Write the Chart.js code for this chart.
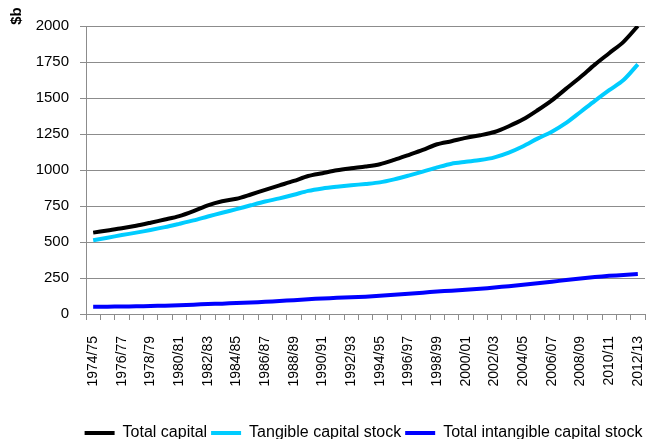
<!DOCTYPE html>
<html>
<head>
<meta charset="utf-8">
<script src="https://cdn.jsdelivr.net/npm/chart.js@4"></script>
<style>
  html, body { margin: 0; padding: 0; background: #fff; }
  #wrap { width: 648px; height: 439px; }
</style>
</head>
<body>
<div id="wrap"><canvas id="chart"></canvas></div>
<script>
const years = [
    '1974/75', '1975/76', '1976/77', '1977/78', '1978/79', '1979/80', '1980/81', '1981/82',
    '1982/83', '1983/84', '1984/85', '1985/86', '1986/87', '1987/88', '1988/89', '1989/90',
    '1990/91', '1991/92', '1992/93', '1993/94', '1994/95', '1995/96', '1996/97', '1997/98',
    '1998/99', '1999/00', '2000/01', '2001/02', '2002/03', '2003/04', '2004/05', '2005/06',
    '2006/07', '2007/08', '2008/09', '2009/10', '2010/11', '2011/12', '2012/13',
];

const totalCapital = [
    565, 580, 595, 613, 634, 656, 680, 715, 755, 783, 800, 830, 862,
    893, 924, 958, 978, 998, 1012, 1024, 1040, 1070, 1104, 1139, 1179, 1200,
    1223, 1241, 1264, 1304, 1352, 1415, 1484, 1565, 1646, 1732, 1811, 1890, 2000,
];

const tangibleStock = [
    512, 530, 548, 565, 583, 603, 626, 650, 677, 703, 728, 755, 781,
    803, 828, 855, 872, 884, 894, 903, 914, 935, 961, 989, 1018, 1044,
    1057, 1069, 1088, 1121, 1165, 1218, 1266, 1327, 1403, 1480, 1554, 1625, 1734,
];

const intangibleStock = [
    51, 51, 52, 53, 55, 58, 61, 65, 69, 72, 76, 80, 85,
    90, 96, 102, 108, 112, 116, 120, 126, 133, 140, 148, 156, 162,
    168, 175, 184, 193, 203, 213, 224, 236, 247, 257, 265, 271, 277,
];

const FONT = "'Liberation Sans', Arial, sans-serif";
const GRID = '#8c8c8c';

function line(label, data, color) {
    return {
        label: label,
        data: data,
        borderColor: color,
        backgroundColor: color,
        borderWidth: 4,
        pointRadius: 0,
        tension: 0.3,
        fill: false,
    };
}

// Excel puts the legend a bit right and low, and the unit label above the axis
const excelLayout = {
    id: 'excelLayout',
    afterLayout(chart) {
        const lg = chart.legend;
        lg.left += 38;
        lg.right += 38;
        lg.top += 12;
        lg.bottom += 12;
    },
    afterDraw(chart) {
        const c = chart.ctx;
        c.save();
        c.translate(21, 16);
        c.rotate(-Math.PI / 2);
        c.fillStyle = '#000';
        c.font = 'bold 15px ' + FONT;
        c.textAlign = 'center';
        c.textBaseline = 'alphabetic';
        c.fillText('$b', 0, 0);
        c.restore();
    },
};

const ctx = document.getElementById('chart').getContext('2d');
new Chart(ctx, {
    type: 'line',
    data: {
        labels: years,
        datasets: [
            line('Total capital', totalCapital, '#000000'),
            line('Tangible capital stock', tangibleStock, '#00ccff'),
            line('Total intangible capital stock', intangibleStock, '#0000ff'),
        ],
    },
    plugins: [excelLayout],
    options: {
        responsive: true,
        maintainAspectRatio: false,
        animation: false,
        layout: {
            padding: { top: 26, right: 3, left: 6, bottom: 0 },
        },
        plugins: {
            tooltip: { enabled: false },
            legend: {
                position: 'bottom',
                labels: {
                    color: '#000',
                    font: { family: FONT, size: 16 },
                    usePointStyle: true,
                    pointStyle: 'line',
                    pointStyleWidth: 30,
                    padding: 4,
                },
            },
        },
        scales: {
            x: {
                offset: true,
                afterFit: (scale) => {
                    scale.height = 95;
                    scale.paddingRight = 0;
                },
                grid: {
                    offset: true,
                    drawOnChartArea: false,
                    color: GRID,
                    tickLength: 6,
                },
                border: { color: GRID },
                ticks: {
                    autoSkip: false,
                    minRotation: 90,
                    maxRotation: 90,
                    padding: 16,
                    color: '#000',
                    font: { family: FONT, size: 14 },
                    callback: function (value, index) {
                        return index % 2 === 0 ? this.getLabelForValue(value) : '';
                    },
                },
            },
            y: {
                min: 0,
                max: 2000,
                afterFit: (scale) => { scale.width = 80; },
                ticks: {
                    stepSize: 250,
                    color: '#000',
                    font: { family: FONT, size: 15 },
                    padding: 11,
                    callback: (value) => String(value),
                },
                grid: { color: GRID, tickLength: 6 },
                border: { color: GRID },
            },
        },
    },
});
</script>
</body>
</html>
